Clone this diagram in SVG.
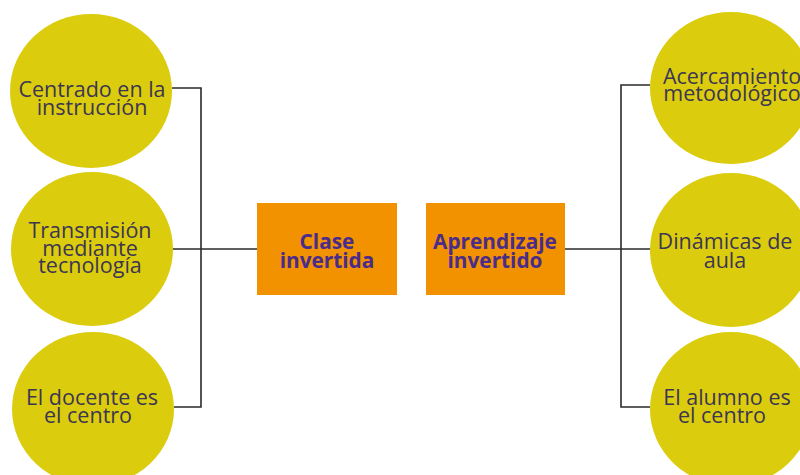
<svg xmlns="http://www.w3.org/2000/svg" width="800" height="475" viewBox="0 0 800 475">
<style>
.c{fill:#dccc0e}
.b{fill:#f29200}
.t{font-family:"Open Sans","Liberation Sans",sans-serif;font-size:21.5px;fill:#3b3652;text-anchor:middle}
.bt{font-family:"Open Sans","Liberation Sans",sans-serif;font-size:20.8px;font-weight:bold;fill:#4a2c8a;text-anchor:middle}
.ln{fill:none;stroke:#2a2a2a;stroke-width:1.6}
</style>
<rect width="800" height="475" fill="#ffffff"/>
<g id="connectors">
<path class="ln" d="M172,88 H201 V407 H174"/>
<path class="ln" d="M173,249 H258"/>
<path class="ln" d="M650,85 H621 V407 H650"/>
<path class="ln" d="M565,249 H650"/>
</g>
<g id="n1"><ellipse class="c" cx="91" cy="91" rx="81" ry="77"/>
<text class="t" x="92" y="97">Centrado en la</text><text class="t" x="92" y="115">instrucción</text></g>
<g id="n2"><ellipse class="c" cx="92" cy="249" rx="81" ry="77"/>
<text class="t" x="90" y="238">Transmisión</text><text class="t" x="90" y="256">mediante</text><text class="t" x="90" y="273">tecnología</text></g>
<g id="n3"><ellipse class="c" cx="93" cy="409" rx="81" ry="77"/>
<text class="t" x="92" y="405">El docente es</text><text class="t" x="88" y="423">el centro</text></g>
<g id="b1"><rect class="b" x="257" y="203" width="140" height="92"/>
<text class="bt" x="327" y="249">Clase</text><text class="bt" x="327" y="268">invertida</text></g>
<g id="b2"><rect class="b" x="426" y="203" width="139" height="92"/>
<text class="bt" x="495" y="249">Aprendizaje</text><text class="bt" x="495" y="268">invertido</text></g>
<g id="r1"><ellipse class="c" cx="731" cy="88" rx="81" ry="76"/>
<text class="t" x="732" y="84">Acercamiento</text><text class="t" x="732" y="101">metodológico</text></g>
<g id="r2"><ellipse class="c" cx="731" cy="250" rx="81" ry="77"/>
<text class="t" x="725" y="249">Dinámicas de</text><text class="t" x="725" y="268">aula</text></g>
<g id="r3"><ellipse class="c" cx="731" cy="409" rx="81" ry="77"/>
<text class="t" x="727" y="405">El alumno es</text><text class="t" x="722" y="423">el centro</text></g>
</svg>
